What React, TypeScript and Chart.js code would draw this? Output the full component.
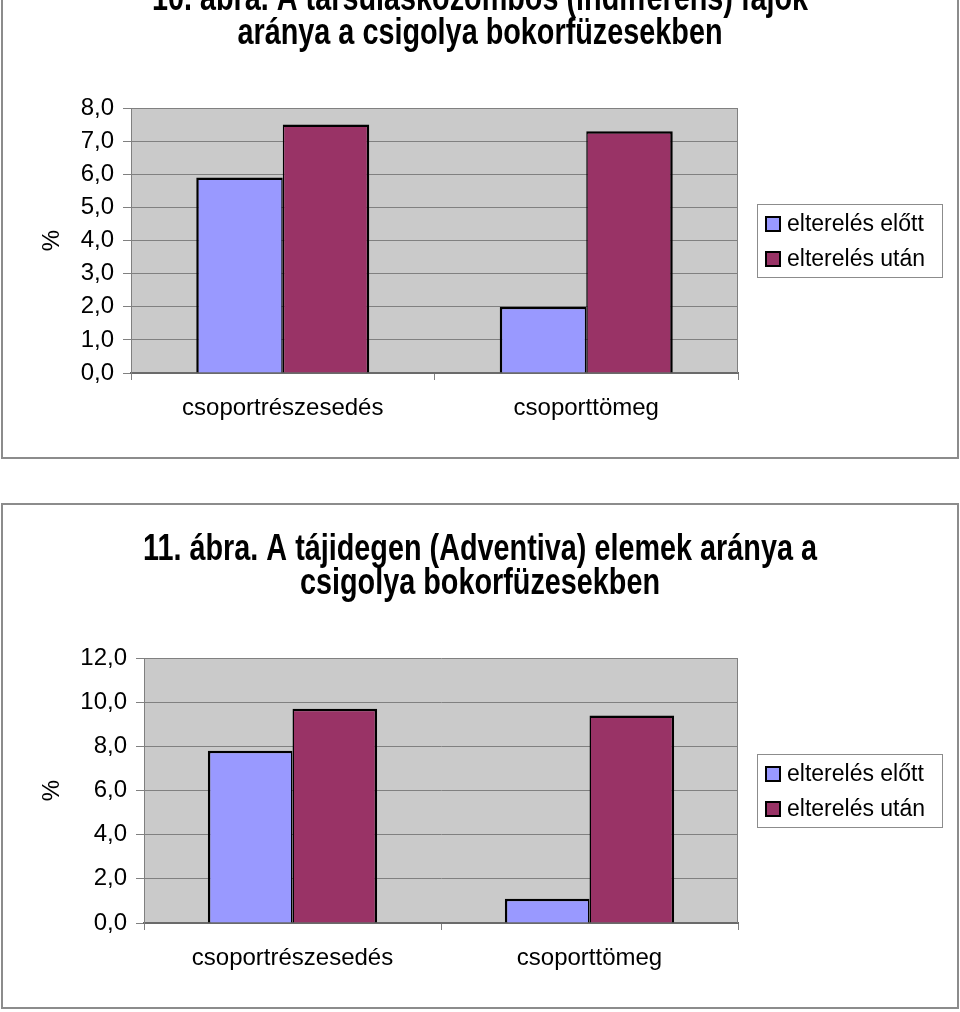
import React, { useEffect, useRef } from 'react';
import { Chart, registerables } from 'chart.js';

Chart.register(...registerables);

const FONT = '"Liberation Sans", Arial, Helvetica, sans-serif';

// ---- data ----
const categories = ['csoportrészesedés', 'csoporttömeg'];
const seriesLabels = ['elterelés előtt', 'elterelés után'];
const seriesColors = ['#9999ff', '#993366'];

const fig10Title = ['10. ábra. A társulásközömbös (indifferens) fajok', 'aránya a csigolya bokorfüzesekben'];
const fig10Before = [5.9, 2.0];
const fig10After = [7.5, 7.3];
const fig10YMax = 8;
const fig10YStep = 1;

const fig11Title = ['11. ábra. A tájidegen (Adventiva) elemek aránya a', 'csigolya bokorfüzesekben'];
const fig11Before = [7.8, 1.1];
const fig11After = [9.7, 9.4];
const fig11YMax = 12;
const fig11YStep = 2;

const yAxisTitle = '%';

type PanelProps = {
  top: number;
  titleLines: string[];
  before: number[];
  after: number[];
  yMax: number;
  yStep: number;
  yWidth: number;
};

function ChartPanel({ top, titleLines, before, after, yMax, yStep, yWidth }: PanelProps) {
  const ref = useRef<HTMLCanvasElement | null>(null);

  useEffect(() => {
    const canvas = ref.current;
    if (!canvas) return;

    const decor = {
      id: 'decor',
      beforeDraw(chart: any) {
        const { ctx, chartArea: a } = chart;
        ctx.save();
        ctx.fillStyle = '#ffffff';
        ctx.fillRect(0, 0, chart.width, chart.height);
        ctx.fillStyle = '#cacaca';
        ctx.fillRect(a.left, a.top, a.right - a.left, a.bottom - a.top);
        ctx.restore();
      },
      afterDraw(chart: any) {
        const { ctx, chartArea: a } = chart;
        ctx.save();
        // plot-area right border
        ctx.strokeStyle = '#808080';
        ctx.lineWidth = 1;
        ctx.beginPath();
        ctx.moveTo(a.right - 0.5, a.top);
        ctx.lineTo(a.right - 0.5, a.bottom);
        ctx.stroke();

        // outer frame
        ctx.strokeStyle = '#8c8c8c';
        ctx.lineWidth = 2;
        ctx.strokeRect(2, 1, 956, 504);

        // title
        ctx.fillStyle = '#000';
        ctx.font = `bold 36px ${FONT}`;
        ctx.textAlign = 'center';
        ctx.textBaseline = 'middle';
        const ys = [47, 81];
        titleLines.forEach((line, i) => {
          ctx.save();
          ctx.translate(480, ys[i]);
          ctx.scale(0.8, 1);
          ctx.fillText(line, 0, 0);
          ctx.restore();
        });

        // legend
        const bx = 757, by = 251, bw = 185, bh = 73;
        ctx.fillStyle = '#fff';
        ctx.fillRect(bx, by, bw, bh);
        ctx.strokeStyle = '#8c8c8c';
        ctx.lineWidth = 1;
        ctx.strokeRect(bx + 0.5, by + 0.5, bw, bh);
        ctx.font = `23px ${FONT}`;
        ctx.textAlign = 'left';
        ctx.textBaseline = 'middle';
        chart.data.datasets.forEach((ds: any, i: number) => {
          const cy = 271 + i * 35;
          ctx.fillStyle = ds.backgroundColor;
          ctx.fillRect(766, cy - 7, 14, 14);
          ctx.strokeStyle = '#000';
          ctx.lineWidth = 2;
          ctx.strokeRect(766, cy - 7, 14, 14);
          ctx.fillStyle = '#000';
          ctx.fillText(ds.label, 787, cy + 1);
        });
        ctx.restore();
      },
    };

    const chart = new Chart(canvas, {
      type: 'bar',
      data: {
        labels: categories,
        datasets: [
          {
            label: seriesLabels[0],
            data: before,
            backgroundColor: seriesColors[0],
            borderColor: '#000',
            borderWidth: { left: 2.5, top: 2.5, right: 1.5, bottom: 0 },
            borderSkipped: false,
            categoryPercentage: 0.57,
            barPercentage: 1,
          },
          {
            label: seriesLabels[1],
            data: after,
            backgroundColor: seriesColors[1],
            borderColor: '#000',
            borderWidth: { left: 1.5, top: 2.5, right: 2.5, bottom: 0 },
            borderSkipped: false,
            categoryPercentage: 0.57,
            barPercentage: 1,
          },
        ],
      },
      options: {
        responsive: false,
        maintainAspectRatio: false,
        animation: false,
        devicePixelRatio: 1,
        layout: { padding: { top: 155, right: 222, bottom: 0, left: 0 } },
        plugins: {
          legend: { display: false },
          title: { display: false },
          tooltip: { enabled: false },
        },
        scales: {
          x: {
            grid: {
              display: true,
              drawOnChartArea: false,
              drawTicks: true,
              tickLength: 7,
              color: '#808080',
              offset: true,
            },
            border: { display: true, color: '#6a6a6a', width: 2 },
            ticks: {
              color: '#000',
              font: { family: FONT, size: 24 },
              padding: 14,
              maxRotation: 0,
              autoSkip: false,
            },
            afterFit(scale: any) {
              scale.height = 86;
            },
          },
          y: {
            min: 0,
            max: yMax,
            grid: {
              color: '#808080',
              lineWidth: 1,
              drawTicks: true,
              tickLength: 8,
            },
            border: { display: true, color: '#808080', width: 1 },
            ticks: {
              stepSize: yStep,
              color: '#000',
              font: { family: FONT, size: 24 },
              padding: 9,
              callback: (v: any) => Number(v).toFixed(1).replace('.', ','),
            },
            title: {
              display: true,
              text: yAxisTitle,
              color: '#000',
              font: { family: FONT, size: 24 },
              padding: { top: 38, bottom: 0 },
            },
            afterFit(scale: any) {
              scale.width = yWidth;
            },
          },
        },
      },
      plugins: [decor],
    } as any);

    return () => chart.destroy();
  }, []);

  return (
    <canvas
      ref={ref}
      width={960}
      height={506}
      style={{ position: 'absolute', left: 0, top, width: 960, height: 506, display: 'block' }}
    />
  );
}

export default function App() {
  return (
    <div
      style={{
        position: 'fixed',
        left: 0,
        top: 0,
        width: 960,
        height: 1012,
        overflow: 'hidden',
        background: '#fff',
      }}
    >
      <ChartPanel
        top={-47}
        titleLines={fig10Title}
        before={fig10Before}
        after={fig10After}
        yMax={fig10YMax}
        yStep={fig10YStep}
        yWidth={131}
      />
      <ChartPanel
        top={503}
        titleLines={fig11Title}
        before={fig11Before}
        after={fig11After}
        yMax={fig11YMax}
        yStep={fig11YStep}
        yWidth={144}
      />
    </div>
  );
}
